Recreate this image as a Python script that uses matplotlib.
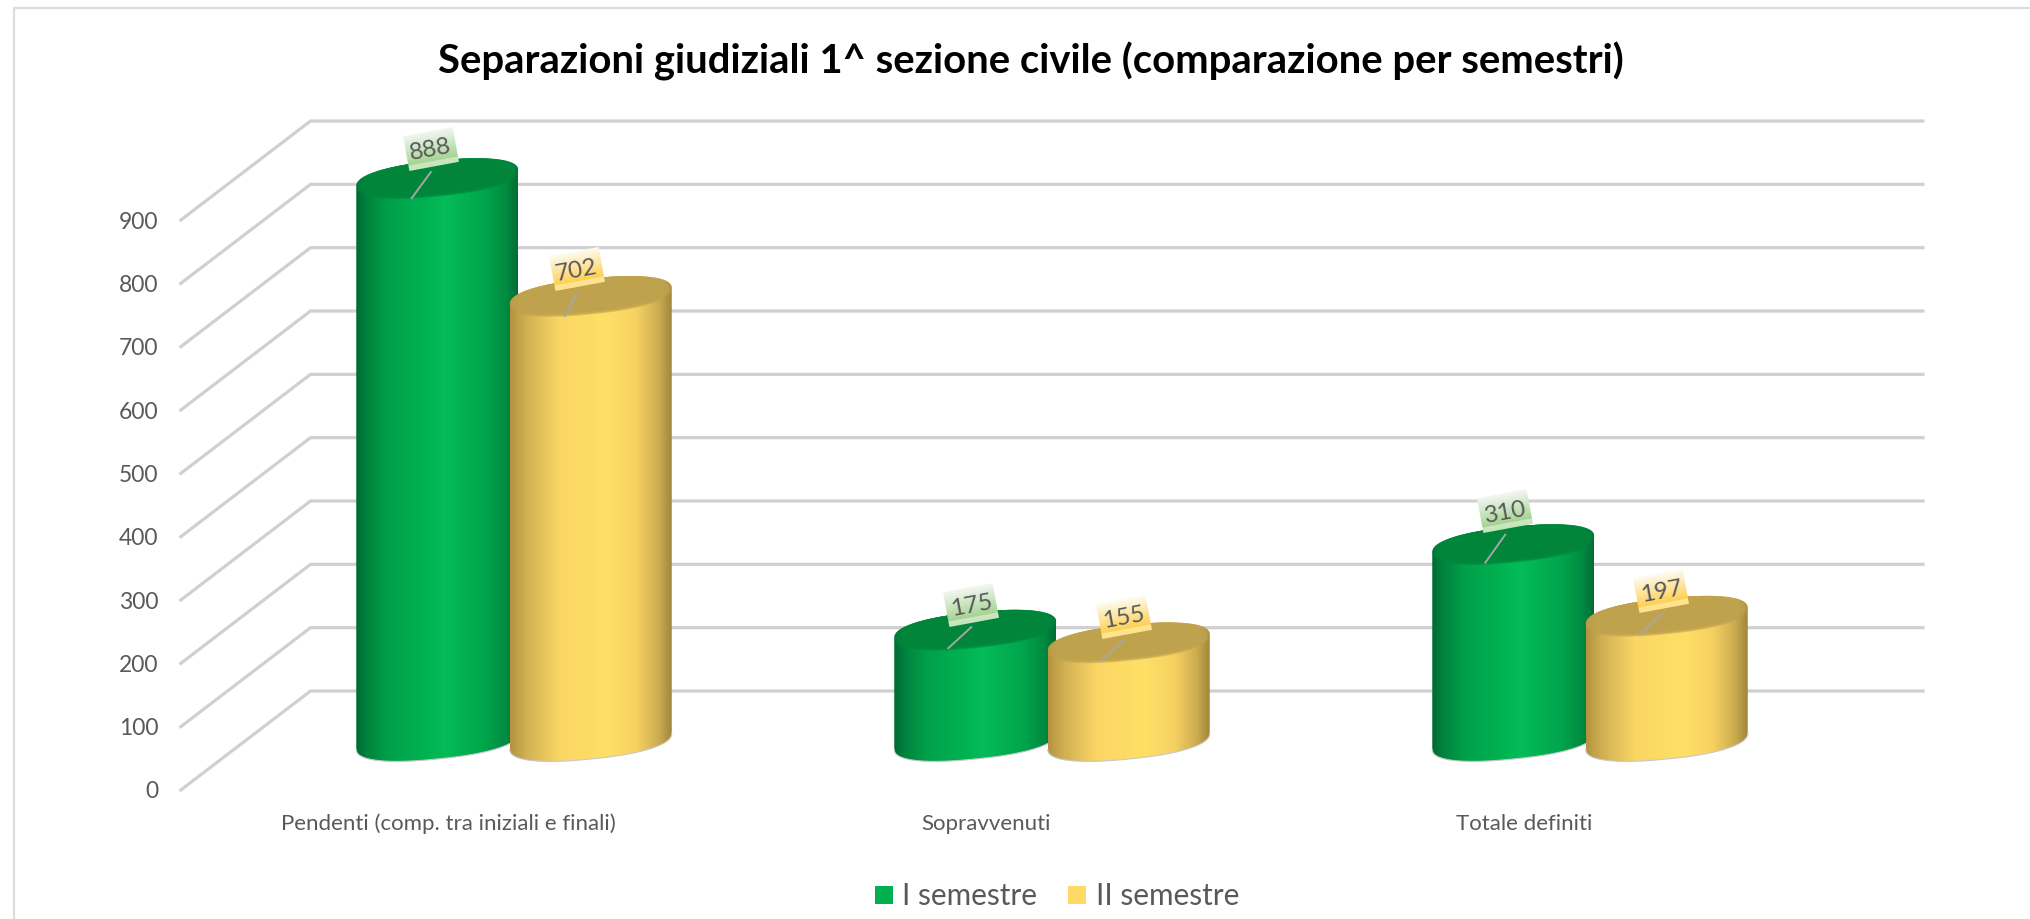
import numpy as np
import matplotlib
matplotlib.use('Agg')
import matplotlib.pyplot as plt
from matplotlib.colors import LinearSegmentedColormap
from matplotlib.patches import Polygon, Rectangle
from matplotlib.lines import Line2D
from matplotlib.transforms import Affine2D

categories = ['Pendenti (comp. tra iniziali e finali)', 'Sopravvenuti', 'Totale definiti']
series_names = ['I semestre', 'II semestre']
i_semestre = [888, 175, 310]
ii_semestre = [702, 155, 197]
y_ticks = [0, 100, 200, 300, 400, 500, 600, 700, 800, 900]
title = 'Separazioni giudiziali 1^ sezione civile (comparazione per semestri)'

W, H = 2031, 920
PX_VALUE = 0.6333    # pixels per unit of the value axis
PX_CAT = 538         # pixels per category
ZERO_PX = 742        # image row of value 0 in the plane of the bars
CAT0_PX = 514        # image column of the first category centre
DEPTH_X, DEPTH_Y = 65.5, 50  # half of the floor depth, pixels

TEXT = '#595959'
plt.rcParams['font.family'] = ['Lato', 'DejaVu Sans']

greens = LinearSegmentedColormap.from_list('g', [
    (0, '#006A32'), (0.06, '#00813D'), (0.2, '#00A04A'), (0.45, '#00B452'),
    (0.55, '#05BC59'), (0.8, '#00A54B'), (0.93, '#008A41'), (1, '#006E35')])
yellows = LinearSegmentedColormap.from_list('y', [
    (0, '#B3933F'), (0.1, '#D1B052'), (0.3, '#FAD664'), (0.6, '#FFE066'),
    (0.78, '#F7D262'), (0.92, '#CBAC50'), (1, '#A2863A')])
green_tag = LinearSegmentedColormap.from_list('gl', [
    (0, '#F3F7F1'), (0.85, '#A3D492'), (0.86, '#CDE8C2'), (1, '#C6E3BA')])
yellow_tag = LinearSegmentedColormap.from_list('yl', [
    (0, '#FDFBF2'), (0.85, '#FFD050'), (0.86, '#FFE596'), (1, '#FFE28A')])

fig = plt.figure(figsize=(W / 100, H / 100), dpi=100)
ax = fig.add_axes([0, 0, 1, 1])
ax.set_xlim(-CAT0_PX / PX_CAT, (W - CAT0_PX) / PX_CAT)
ax.set_ylim((ZERO_PX - H) / PX_VALUE, ZERO_PX / PX_VALUE)
ax.axis('off')


def dx(px):
    return px / PX_CAT


def dy(px):
    return px / PX_VALUE


def cylinder(cx, value, body_cmap, top_color, z):
    half_w = 81
    t = np.linspace(0, 2 * np.pi, 200)
    # a little fuller than a true ellipse, like the bevelled tops
    c = np.sign(np.cos(t)) * np.abs(np.cos(t)) ** 0.85
    s = np.sign(np.sin(t)) * np.abs(np.sin(t)) ** 0.85
    ex = dx(half_w * c)
    ey = dy(18 * s + 8 * c)
    top = np.column_stack([cx + ex, value + ey])
    base = np.column_stack([cx + ex, ey])
    low = base[100:]
    up = top[:101]
    body = np.vstack([low, up])
    extent = (cx - dx(half_w), cx + dx(half_w), dy(-25), value + dy(25))
    grad = np.linspace(0, 1, 256).reshape(1, -1)
    im = ax.imshow(grad, cmap=body_cmap, extent=extent, aspect='auto', zorder=z, interpolation='bilinear')
    im.set_clip_path(Polygon(body, closed=True, transform=ax.transData))
    ax.add_line(Line2D(low[:, 0], low[:, 1], color='#C8C8C8', lw=0.8, zorder=z))
    # soft bevel round the flat top
    for k, scale in enumerate([1.0, 0.98, 0.96, 0.94, 0.92, 0.90]):
        inner = np.column_stack([cx + ex * scale, value + ey * scale + dy((1 - scale) * 18)])
        ax.add_patch(Polygon(inner, closed=True, facecolor=top_color, edgecolor='none',
                             alpha=0.45 if k < 5 else 1.0, zorder=z + 0.1))


for tick in y_ticks:
    x0 = -0.5 - dx(DEPTH_X)
    ax.plot([x0, x0 + dx(2 * DEPTH_X), x0 + dx(2 * DEPTH_X) + 3],
            [tick - dy(DEPTH_Y), tick + dy(DEPTH_Y), tick + dy(DEPTH_Y)],
            color='#D0D0D0', lw=2.3, solid_joinstyle='miter', solid_capstyle='butt', zorder=1)
    ax.text(x0 - dx(21), tick - dy(DEPTH_Y), str(tick), ha='right', va='center',
            fontsize=16.5, color=TEXT)

offset = dx(76.75)
for i, cat in enumerate(categories):
    cylinder(i - offset, i_semestre[i], greens, '#00853B', 3 + i)
    cylinder(i + offset, ii_semestre[i], yellows, '#BFA24D', 3.5 + i)
    ax.text(i - dx(DEPTH_X), -dy(DEPTH_Y) - dy(32), cat, ha='center', va='center',
            fontsize=16, color=TEXT)

# label tag centre and leader ends, pixels from the centre of the bar top, y down
tag_layout = [
    [(-6.5, -29.5, -6.5, -6.5, -25.5, 19.5), (-4, -25, -4, -3, -27, 18), (-8, -33, -8, -10, -28, 18)],
    [(-14, -27, -14, -3.5, -26, 19.5), (-5, -26, -5, -3, -27, 18), (-5.5, -25, -5.5, -2, -27, 18.5)],
]
for s, (vals, tag_cmap, sign) in enumerate([(i_semestre, green_tag, -1), (ii_semestre, yellow_tag, 1)]):
    for i, v in enumerate(vals):
        cx = i + sign * offset
        tx, ty, lx0, ly0, lx1, ly1 = tag_layout[s][i]
        ax.plot([cx + dx(lx0), cx + dx(lx1)], [v - dy(ly0), v - dy(ly1)],
                color='#A6A6A6', lw=1.4, zorder=10)
        centre = ax.transData.transform((cx + dx(tx), v - dy(ty)))
        tr = Affine2D().rotate_deg(10.5).translate(*centre)
        grad = np.linspace(0, 1, 64).reshape(-1, 1)
        ax.imshow(grad, cmap=tag_cmap, extent=(-25, 25, -17.5, 17.5), aspect='auto',
                  transform=tr, zorder=11, interpolation='bilinear')
        ax.text(cx + dx(tx), v - dy(ty), str(v), rotation=10.5, rotation_mode='anchor',
                ha='center', va='center', fontsize=17.5, color=TEXT, zorder=12)

fig.text(1031 / W, 1 - 61 / H, title, ha='center', va='center', fontsize=28.8,
         fontweight='bold', color='black')

# legend
for sx, tx, color, name in [(875, 902, '#00B050', series_names[0]), (1068, 1096, '#FFD966', series_names[1])]:
    fig.add_artist(Rectangle((sx / W, 1 - 905 / H), 18 / W, 18 / H, transform=fig.transFigure,
                             facecolor=color, edgecolor='none'))
    fig.text(tx / W, 1 - 896 / H, name, ha='left', va='center', fontsize=21.4, color=TEXT)

# chart frame, only the top and left sides are in the picture
fig.add_artist(Line2D([14 / W, 14 / W, 1], [0, 1 - 9 / H, 1 - 9 / H], color='#DDDDDD', lw=1.6,
                      transform=fig.transFigure))

fig.savefig('out.png', dpi=100, facecolor='white')
